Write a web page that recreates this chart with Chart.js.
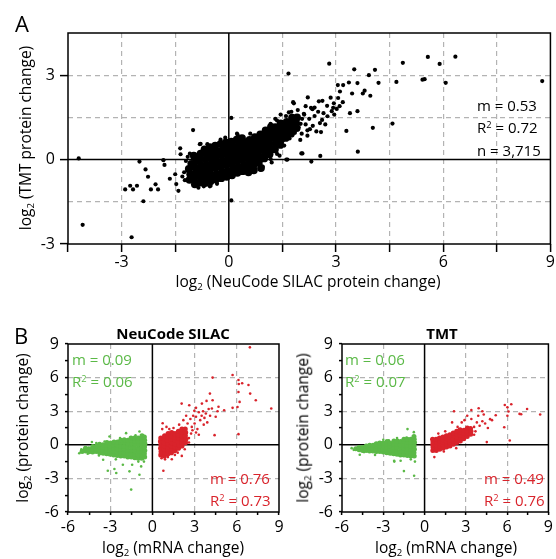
<!DOCTYPE html>
<html>
<head>
<meta charset="utf-8">
<script src="https://cdn.jsdelivr.net/npm/chart.js@4.4.1/dist/chart.umd.min.js"></script>
<style>
  html, body { margin: 0; padding: 0; background: #fff; }
  #fig { position: relative; width: 556px; height: 559px; overflow: hidden;
         font-family: "Open Sans", sans-serif; color: #000; }
  #fig canvas { position: absolute; }
  .t { position: absolute; white-space: nowrap; line-height: 1; font-size: 15.5px; }
  .c { transform: translate(-50%, -50%); }
  .l { transform: translate(0, -50%); }
  .r90 { transform: translate(-50%, -50%) rotate(-90deg); }
  .panel { font-size: 22px; }
  .head { font-weight: bold; font-size: 15px; }
  .note { font-size: 15px; }
  .green { color: #5bb947; }
  .red { color: #d9232b; }
  sub { font-size: 0.62em; vertical-align: -0.32em; line-height: 0; }
  sup { font-size: 0.62em; vertical-align: 0.45em; line-height: 0; }
</style>
</head>
<body>
<div id="fig">
  <canvas id="chartA" style="left:0px;top:0px" width="556" height="300"></canvas>
  <canvas id="chartB1" style="left:0px;top:310px" width="290" height="249"></canvas>
  <canvas id="chartB2" style="left:280px;top:310px" width="276" height="249"></canvas>

  <div class="t panel c" style="left:22px;top:23px">A</div>
  <div class="t panel c" style="left:21px;top:335px">B</div>

  <div class="t r90" style="left:26px;top:138px">log<sub>2</sub> (TMT protein change)</div>
  <div class="t c" style="left:308px;top:282px">log<sub>2</sub> (NeuCode SILAC protein change)</div>
  <div class="t note l" style="left:477px;top:105px">m = 0.53</div>
  <div class="t note l" style="left:477px;top:127px">R<sup>2</sup> = 0.72</div>
  <div class="t note l" style="left:477px;top:150px">n = 3,715</div>

  <div class="t head c" style="left:173px;top:333px">NeuCode SILAC</div>
  <div class="t head c" style="left:442px;top:333px">TMT</div>
  <div class="t r90" style="left:23px;top:428px">log<sub>2</sub> (protein change)</div>
  <div class="t r90" style="left:303px;top:428px">log<sub>2</sub> (protein change)</div>
  <div class="t c" style="left:173px;top:548px">log<sub>2</sub> (mRNA change)</div>
  <div class="t c" style="left:446px;top:548px">log<sub>2</sub> (mRNA change)</div>

  <div class="t note l green" style="left:72px;top:359px">m = 0.09</div>
  <div class="t note l green" style="left:72px;top:381px">R<sup>2</sup> = 0.06</div>
  <div class="t note l red" style="left:210px;top:478px">m = 0.76</div>
  <div class="t note l red" style="left:210px;top:500px">R<sup>2</sup> = 0.73</div>
  <div class="t note l green" style="left:345px;top:359px">m = 0.06</div>
  <div class="t note l green" style="left:345px;top:381px">R<sup>2</sup> = 0.07</div>
  <div class="t note l red" style="left:484px;top:478px">m = 0.49</div>
  <div class="t note l red" style="left:484px;top:500px">R<sup>2</sup> = 0.76</div>
</div>

<script>
// ---- panel A: NeuCode SILAC vs TMT protein change (log2) ----
const axisA = { xMin: -4.5, xMax: 9, yMin: -3, yMax: 4.5, step: 1.5 };

// dense centre of the cloud
const coreA = [
  [-1.10,-0.72],[-1.08,-0.52],[-1.12,-0.33],[-1.05,-0.15],
  [-0.95,-0.88],[-0.97,-0.66],[-0.93,-0.47],[-0.96,-0.26],[-0.92,-0.05],[-0.98,0.14],
  [-0.82,-0.82],[-0.80,-0.61],[-0.83,-0.42],[-0.78,-0.21],[-0.81,0.02],[-0.79,0.21],
  [-0.66,-0.83],[-0.64,-0.62],[-0.67,-0.41],[-0.63,-0.19],[-0.65,0.01],[-0.62,0.19],[-0.68,0.36],
  [-0.51,-0.77],[-0.49,-0.56],[-0.52,-0.36],[-0.48,-0.14],[-0.50,0.06],[-0.47,0.25],[-0.53,0.44],
  [-0.36,-0.71],[-0.34,-0.51],[-0.37,-0.29],[-0.33,-0.09],[-0.35,0.11],[-0.32,0.31],[-0.38,0.50],
  [-0.21,-0.66],[-0.19,-0.45],[-0.22,-0.24],[-0.18,-0.04],[-0.20,0.16],[-0.17,0.36],[-0.23,0.56],
  [-0.06,-0.61],[-0.04,-0.40],[-0.07,-0.19],[-0.03,0.01],[-0.05,0.21],[-0.02,0.41],[-0.08,0.61],
  [0.09,-0.56],[0.11,-0.35],[0.08,-0.14],[0.12,0.06],[0.10,0.26],[0.13,0.46],[0.07,0.64],
  [0.24,-0.47],[0.26,-0.26],[0.23,-0.05],[0.27,0.15],[0.25,0.35],[0.28,0.54],[0.22,0.71],
  [0.39,-0.41],[0.41,-0.21],[0.38,0.00],[0.42,0.20],[0.40,0.40],[0.43,0.60],[0.37,0.76],
  [0.54,-0.31],[0.56,-0.10],[0.53,0.10],[0.57,0.30],[0.55,0.50],[0.58,0.70],[0.55,-0.45],
  [0.69,-0.21],[0.71,0.00],[0.68,0.20],[0.72,0.40],[0.70,0.60],[0.73,0.80],[0.70,-0.38],
  [0.84,-0.11],[0.86,0.10],[0.83,0.30],[0.87,0.50],[0.85,0.70],[0.88,0.90],[0.90,-0.30],
  [0.99,0.04],[1.01,0.25],[0.98,0.45],[1.02,0.65],[1.00,0.85],[1.03,1.04],
  [1.14,0.19],[1.16,0.40],[1.13,0.60],[1.17,0.80],[1.15,1.00],[1.18,1.16],
  [1.29,0.36],[1.31,0.56],[1.28,0.76],[1.32,0.96],[1.30,1.15],
  [1.44,0.52],[1.46,0.71],[1.43,0.91],[1.47,1.11],[1.45,1.29],
  [1.59,0.77],[1.61,0.96],[1.58,1.16],[1.62,1.34],
  [1.74,0.92],[1.76,1.11],[1.73,1.31],[1.77,1.49],
  [1.90,1.12],[1.88,1.31],[1.91,1.50]
];

// sparser points and outliers
const spreadA = [
  [-4.20,0.04],[-4.09,-2.32],[-2.72,-2.76],[-2.90,-1.06],[-2.76,-0.93],[-2.68,-1.06],[-2.57,-0.93],
  [-2.39,-1.48],[-2.50,-0.07],[-2.33,-0.35],[-2.26,-0.61],[-2.18,-1.06],[-2.05,-0.88],[-1.98,-1.06],
  [-1.83,-0.02],[-1.80,-0.19],[-1.65,-0.68],[-1.50,-0.52],[-1.47,-0.87],[-1.41,-1.11],[-1.36,0.40],
  [-1.35,0.19],[-1.00,1.05],[-0.79,0.56],[-0.51,-0.93],[-0.33,-0.86],[0.07,1.48],[0.07,-1.45],[0.25,0.87],
  [-1.23,-0.73],[-1.09,0.21],[-1.25,-0.45],[-1.20,-0.05],[-1.30,-0.60],[-0.81,0.55],[-0.53,-0.95],
  [-0.34,-0.75],[-0.23,0.71],[0.23,0.92],[0.60,0.92],[0.88,-0.35],[1.17,0.02],[1.35,0.20],[1.64,0.00],
  [2.06,0.22],[1.20,-0.10],[0.95,-0.25],[-0.60,0.55],[-0.10,0.78],[-0.85,-1.00],[-0.70,-0.95],[-1.15,0.10],
  [1.68,1.68],[1.82,2.00],[2.10,1.63],[2.01,1.27],[2.20,1.04],[1.17,1.27],[1.35,1.39],[1.54,0.98],[1.67,3.06],
  [2.03,0.22],[2.31,-0.07],[2.56,0.13],[1.61,0.00],[1.42,0.14],[3.61,0.28],
  [3.02,1.80],[2.94,2.00],[3.19,2.04],[3.06,2.19],[2.92,1.84],[2.75,1.91],[2.52,2.07],[2.62,2.09],
  [2.76,1.54],[2.61,1.41],[2.21,2.21],[2.34,1.79],[2.30,1.84],[1.80,2.04],[1.93,1.76],[2.11,1.60],
  [2.27,1.08],[2.04,0.92],[2.88,1.72],[3.39,1.65],[3.60,1.72],[3.29,1.02],[4.03,1.13],[4.58,1.28],
  [2.81,3.41],[3.51,3.21],[3.05,2.65],[3.20,2.65],[3.36,2.74],[3.11,2.42],[3.45,2.35],[3.60,2.72],
  [3.75,2.35],[3.80,2.45],[3.96,2.27],[3.92,3.00],[4.09,3.19],[4.19,2.73],[4.69,2.76],[4.87,3.44],
  [5.42,2.84],[5.48,2.86],[5.57,3.65],[5.90,3.40],[6.07,2.73],[6.34,3.66],[8.77,2.79],
  [1.40,0.65],[1.50,1.30],[1.55,0.50],[1.70,0.75],[1.72,1.25],[1.85,0.95],[1.88,1.40],[1.95,1.15],
  [2.00,0.70],[2.05,1.45],[2.15,1.25],[2.20,0.85],[2.25,1.45],[2.35,1.20],[2.40,1.55],[2.45,1.00],
  [2.50,1.70],[2.55,1.30],[2.65,1.65],[2.70,1.25],[2.40,1.85],[2.15,1.90],[1.60,1.55],[1.75,1.70],
  [2.85,2.20],[2.95,1.60],[3.10,1.90],[1.30,1.45],[1.45,1.60],[2.58,0.98]
];

// ---- panel B: mRNA change vs protein change (log2) ----
const axisB = { min: -6, max: 9, step: 1.5 };

const silacDownCore = [
  [-5.00,-0.60],[-4.75,-0.55],[-4.76,-0.30],[-4.50,-0.62],[-4.52,-0.35],
  [-4.25,-0.65],[-4.27,-0.40],[-4.24,-0.15],[-4.00,-0.60],[-4.02,-0.35],[-3.98,-0.10],
  [-3.75,-0.70],[-3.77,-0.45],[-3.74,-0.20],[-3.76,0.05],
  [-3.50,-0.75],[-3.52,-0.50],[-3.49,-0.25],[-3.51,0.00],
  [-3.25,-0.80],[-3.27,-0.55],[-3.24,-0.30],[-3.26,-0.05],[-3.23,0.20],
  [-3.00,-0.85],[-3.02,-0.60],[-2.99,-0.35],[-3.01,-0.10],[-2.98,0.15],
  [-2.75,-0.90],[-2.77,-0.60],[-2.74,-0.30],[-2.76,0.00],[-2.73,0.25],
  [-2.50,-0.95],[-2.52,-0.65],[-2.49,-0.35],[-2.51,-0.05],[-2.48,0.25],
  [-2.25,-1.00],[-2.27,-0.70],[-2.24,-0.40],[-2.26,-0.10],[-2.23,0.20],[-2.25,0.40],
  [-2.00,-1.00],[-2.02,-0.70],[-1.99,-0.40],[-2.01,-0.10],[-1.98,0.20],[-2.00,0.45],
  [-1.75,-1.10],[-1.77,-0.80],[-1.74,-0.50],[-1.76,-0.20],[-1.73,0.10],[-1.75,0.40],
  [-1.50,-1.10],[-1.52,-0.80],[-1.49,-0.50],[-1.51,-0.20],[-1.48,0.10],[-1.50,0.40],[-1.52,0.60],
  [-1.25,-1.15],[-1.27,-0.85],[-1.24,-0.55],[-1.26,-0.25],[-1.23,0.05],[-1.25,0.35],[-1.27,0.60],
  [-1.00,-1.20],[-1.02,-0.90],[-0.99,-0.60],[-1.01,-0.30],[-0.98,0.00],[-1.00,0.30],[-1.02,0.60],
  [-0.75,-1.20],[-0.77,-0.90],[-0.74,-0.60],[-0.76,-0.30],[-0.73,0.00],[-0.75,0.30],[-0.77,0.60],[-0.74,0.80],
  [-0.55,-1.10],[-0.57,-0.80],[-0.54,-0.50],[-0.56,-0.20],[-0.53,0.10],[-0.55,0.40],[-0.57,0.70]
];
const silacDownSpread = [
  [-3.17,-2.32],[-2.57,-2.52],[-1.51,-4.00],[-3.99,0.15],[-3.05,0.74],[-0.92,-2.67],[-0.80,-1.93],
  [-0.92,1.19],[-3.50,-1.34],[-2.70,-2.16],[-2.10,-1.78],[-1.87,1.04],[-1.63,-2.37],[-1.44,-1.78],
  [-5.20,-0.75],[-4.90,-0.45],[-2.30,0.60],[-1.20,0.85],[-0.60,-1.50],[-1.00,-1.50],[-2.60,-1.30],
  [-3.80,-0.95],[-4.30,0.25],[-5.05,-0.40],[-4.60,-0.80],[-3.40,0.30]
];
const silacUpCore = [
  [0.60,-0.90],[0.62,-0.60],[0.59,-0.30],[0.61,0.00],[0.58,0.30],[0.60,0.60],
  [0.85,-1.00],[0.87,-0.70],[0.84,-0.40],[0.86,-0.10],[0.83,0.20],[0.85,0.50],[0.87,0.80],
  [1.10,-0.80],[1.12,-0.50],[1.09,-0.20],[1.11,0.10],[1.08,0.40],[1.10,0.70],[1.12,1.00],
  [1.35,-0.70],[1.37,-0.40],[1.34,-0.10],[1.36,0.20],[1.33,0.50],[1.35,0.80],[1.37,1.10],
  [1.60,-0.50],[1.62,-0.20],[1.59,0.10],[1.61,0.40],[1.58,0.70],[1.60,1.00],
  [1.85,-0.30],[1.87,0.00],[1.84,0.30],[1.86,0.60],[1.83,0.90],[1.85,1.20],
  [2.10,-0.10],[2.12,0.20],[2.09,0.50],[2.11,0.80],[2.08,1.10],[2.10,1.40],
  [2.35,0.20],[2.37,0.50],[2.34,0.80],[2.36,1.10],[2.33,1.40]
];
const silacUpSpread = [
  [6.93,8.70],[5.70,6.23],[4.28,6.00],[6.12,5.79],[6.14,5.43],[6.38,5.50],[6.83,5.34],[6.12,4.72],
  [6.95,4.57],[4.09,4.57],[7.35,3.98],[3.52,3.68],[3.85,3.92],[4.28,3.98],[6.20,3.83],[2.08,3.68],
  [2.62,3.53],[8.45,3.24],[5.70,3.30],[6.05,3.38],[5.10,3.09],[4.63,3.00],[4.23,3.24],[2.98,3.03],
  [6.12,0.95],[4.42,0.86],[0.78,-2.32],[2.09,-0.99],[1.38,-1.29],[0.73,1.93],
  [2.50,1.90],[2.70,2.30],[2.90,2.60],[3.10,2.50],[3.30,2.90],[3.50,2.60],[3.60,3.00],[3.80,2.80],
  [4.00,3.20],[3.20,1.40],[3.40,2.20],[3.70,2.40],[2.80,1.60],[3.00,1.90],[2.40,2.60],[1.90,1.80],
  [2.20,2.20],[1.50,1.50],[1.20,1.40],[1.00,1.60],[0.70,1.40],[0.65,-1.20],[0.90,-1.30],[1.10,-1.10],
  [1.80,-0.70],[2.60,0.20],[3.30,0.90],[3.90,2.00],[4.50,2.50],[4.70,3.40],[3.10,3.30],[2.30,-0.40],
  [1.60,-0.90],[4.10,2.60],[3.65,1.80],[2.75,1.00],[2.60,0.60],[2.85,1.30],[3.10,1.10]
];

const tmtDownCore = [
  [-5.00,-0.35],[-4.75,-0.45],[-4.77,-0.25],[-4.50,-0.50],[-4.52,-0.25],
  [-4.25,-0.50],[-4.27,-0.30],[-4.24,-0.10],[-4.00,-0.55],[-4.02,-0.30],[-3.99,-0.05],
  [-3.75,-0.55],[-3.77,-0.30],[-3.74,-0.05],[-3.50,-0.60],[-3.52,-0.35],[-3.49,-0.10],[-3.51,0.10],
  [-3.25,-0.60],[-3.27,-0.35],[-3.24,-0.10],[-3.26,0.15],[-3.00,-0.65],[-3.02,-0.40],[-2.99,-0.10],[-3.01,0.15],
  [-2.75,-0.70],[-2.77,-0.45],[-2.74,-0.20],[-2.76,0.05],[-2.73,0.30],
  [-2.50,-0.75],[-2.52,-0.45],[-2.49,-0.15],[-2.51,0.15],
  [-2.25,-0.80],[-2.27,-0.50],[-2.24,-0.20],[-2.26,0.10],[-2.23,0.35],
  [-2.00,-0.85],[-2.02,-0.55],[-1.99,-0.25],[-2.01,0.05],[-1.98,0.35],
  [-1.75,-0.90],[-1.77,-0.60],[-1.74,-0.30],[-1.76,0.00],[-1.73,0.30],
  [-1.50,-0.90],[-1.52,-0.60],[-1.49,-0.30],[-1.51,0.00],[-1.48,0.30],[-1.50,0.50],
  [-1.25,-0.95],[-1.27,-0.65],[-1.24,-0.35],[-1.26,-0.05],[-1.23,0.25],[-1.25,0.50],
  [-1.00,-1.00],[-1.02,-0.70],[-0.99,-0.40],[-1.01,-0.10],[-0.98,0.20],[-1.00,0.50],
  [-0.75,-1.00],[-0.77,-0.70],[-0.74,-0.40],[-0.76,-0.10],[-0.73,0.20],[-0.75,0.50],[-0.77,0.75]
];
const tmtDownSpread = [
  [-1.24,1.40],[-0.78,1.13],[-2.21,-1.42],[-1.74,-1.42],[-4.71,-0.89],[-1.50,-2.35],[-0.76,-2.76],
  [-2.20,-1.50],[-1.31,0.65],[-5.30,-0.30],[-2.00,0.60],[-1.00,-1.30],[-3.00,0.45],[-0.70,-1.50],
  [-3.60,-0.90],[-5.15,-0.45],[-4.40,-0.65],[-2.60,0.40]
];
const tmtUpCore = [
  [0.60,-0.50],[0.62,-0.25],[0.59,0.00],[0.61,0.25],[0.58,0.50],
  [0.85,-0.50],[0.87,-0.25],[0.84,0.00],[0.86,0.25],[0.83,0.50],
  [1.10,-0.40],[1.12,-0.15],[1.09,0.10],[1.11,0.35],[1.08,0.60],
  [1.35,-0.30],[1.37,-0.05],[1.34,0.20],[1.36,0.45],[1.33,0.70],
  [1.60,-0.20],[1.62,0.05],[1.59,0.30],[1.61,0.55],[1.58,0.80],
  [1.85,-0.10],[1.87,0.15],[1.84,0.40],[1.86,0.65],[1.83,0.90],
  [2.10,0.05],[2.12,0.30],[2.09,0.55],[2.11,0.80],[2.08,1.05],
  [2.35,0.20],[2.37,0.45],[2.34,0.70],[2.36,0.95],[2.33,1.20],
  [2.60,0.35],[2.62,0.60],[2.59,0.85],[2.61,1.10],[2.58,1.35],
  [2.85,0.55],[2.87,0.80],[2.84,1.05],[2.86,1.30],
  [3.10,0.75],[3.12,1.00],[3.09,1.25],[3.11,1.50],
  [3.35,0.95],[3.37,1.20],[3.34,1.45]
];
const tmtUpSpread = [
  [5.83,3.56],[6.02,3.35],[6.30,3.62],[6.10,2.97],[7.45,3.20],[6.90,2.76],[7.02,2.73],[8.40,2.70],
  [6.02,2.60],[5.79,1.57],[6.19,0.39],[4.52,0.24],[2.14,3.00],[5.17,2.64],[4.76,2.29],[0.71,-1.10],
  [3.60,1.60],[3.80,2.00],[4.00,1.70],[4.20,2.10],[4.40,1.90],[3.40,2.30],[3.10,2.60],[2.70,2.00],
  [2.40,1.60],[1.50,1.20],[1.00,1.00],[4.90,2.20],[4.60,1.50],[3.90,2.60],[2.90,2.20],[3.70,1.20],
  [4.30,2.70],[2.30,-0.30],[1.40,-0.60],[2.00,2.00],[3.93,3.27],[4.20,3.00],[3.40,3.10],[3.60,0.90]
];

const BLACK = '#000000';
const GREEN = '#5bb947';
const RED = '#d9232b';
const GRID = '#b3b3b3';
const FONT = '"Open Sans", sans-serif';

Chart.defaults.font.family = FONT;
Chart.defaults.color = '#000';

function pts(list) {
  return list.map(p => ({ x: p[0], y: p[1] }));
}

// solid zero lines + black frame round the plot area
const framePlugin = {
  id: 'frame',
  beforeDatasetsDraw(chart) {
    const { ctx, chartArea: a, scales } = chart;
    const x0 = scales.x.getPixelForValue(0);
    const y0 = scales.y.getPixelForValue(0);
    ctx.save();
    ctx.strokeStyle = '#000';
    ctx.lineWidth = 1.5;
    ctx.beginPath();
    ctx.moveTo(x0, a.top);
    ctx.lineTo(x0, a.bottom);
    ctx.moveTo(a.left, y0);
    ctx.lineTo(a.right, y0);
    ctx.stroke();
    ctx.restore();
  },
  afterDraw(chart) {
    const { ctx, chartArea: a } = chart;
    ctx.save();
    ctx.strokeStyle = '#000';
    ctx.lineWidth = 1.5;
    ctx.strokeRect(a.left, a.top, a.right - a.left, a.bottom - a.top);
    ctx.restore();
  }
};

function makeAxis(cfg) {
  return {
    type: 'linear',
    min: cfg.min,
    max: cfg.max,
    afterFit(scale) {
      if (cfg.width !== undefined) scale.width = cfg.width;
      if (cfg.height !== undefined) scale.height = cfg.height;
    },
    afterBuildTicks(scale) {
      // ticks every step from min to max
      const t = [];
      for (let v = cfg.min; v <= cfg.max + 1e-9; v += cfg.step) t.push({ value: Math.round(v * 10) / 10 });
      scale.ticks = t;
    },
    border: { display: false, dash: [5, 4] },
    grid: {
      lineWidth: 1.2,
      color: ctx => cfg.gridAt(ctx.tick.value) ? GRID : 'rgba(0,0,0,0)',
      drawTicks: true,
      tickLength: cfg.tickLength,
      tickWidth: 1.5,
      tickColor: ctx => cfg.tickAt(ctx.tick.value) ? '#000' : 'rgba(0,0,0,0)'
    },
    ticks: {
      autoSkip: false,
      maxRotation: 0,
      padding: cfg.padding,
      font: { size: 16, family: FONT },
      color: '#000',
      callback: v => (v % 3 === 0 ? String(v) : '')
    }
  };
}

function baseOptions(pad, xAxis, yAxis) {
  return {
    responsive: false,
    animation: false,
    events: [],
    layout: { padding: pad },
    plugins: { legend: { display: false }, tooltip: { enabled: false } },
    scales: { x: xAxis, y: yAxis }
  };
}

function dot(data, color, r) {
  return {
    data: pts(data),
    backgroundColor: color,
    borderWidth: 0,
    pointRadius: r,
    pointHoverRadius: r
  };
}

// panel A
new Chart(document.getElementById('chartA'), {
  type: 'scatter',
  data: { datasets: [dot(coreA, BLACK, 3.9), dot(spreadA, BLACK, 2.1)] },
  options: baseOptions(
    { top: 33, right: 5, left: 0, bottom: 0 },
    makeAxis({ min: axisA.xMin, max: axisA.xMax, step: axisA.step, height: 56, tickLength: 8, padding: 1,
               gridAt: v => v !== 0 && v > axisA.xMin && v < axisA.xMax, tickAt: v => true }),
    makeAxis({ min: axisA.yMin, max: axisA.yMax, step: axisA.step, width: 68, tickLength: 8, padding: 5,
               gridAt: v => v !== 0 && v > axisA.yMin && v < axisA.yMax, tickAt: v => v % 3 === 0 })
  ),
  plugins: [framePlugin]
});

// panel B
function panelB(id, yWidth, rightPad, sets) {
  const inner = v => v !== 0 && v % 3 === 0 && v > axisB.min && v < axisB.max;
  new Chart(document.getElementById(id), {
    type: 'scatter',
    data: { datasets: sets },
    options: baseOptions(
      { top: 34, right: rightPad, left: 0, bottom: 0 },
      makeAxis({ min: axisB.min, max: axisB.max, step: axisB.step, height: 47, tickLength: 3, padding: 3,
                 gridAt: inner, tickAt: v => true }),
      makeAxis({ min: axisB.min, max: axisB.max, step: axisB.step, width: yWidth, tickLength: 3, padding: 6,
                 gridAt: inner, tickAt: v => true })
    ),
    plugins: [framePlugin]
  });
}

panelB('chartB1', 68, 11, [
  dot(silacDownCore, GREEN, 2.5), dot(silacDownSpread, GREEN, 1.3),
  dot(silacUpCore, RED, 2.6), dot(silacUpSpread, RED, 1.3)
]);
panelB('chartB2', 62, 4, [
  dot(tmtDownCore, GREEN, 2.5), dot(tmtDownSpread, GREEN, 1.3),
  dot(tmtUpCore, RED, 2.5), dot(tmtUpSpread, RED, 1.3)
]);
</script>
</body>
</html>
